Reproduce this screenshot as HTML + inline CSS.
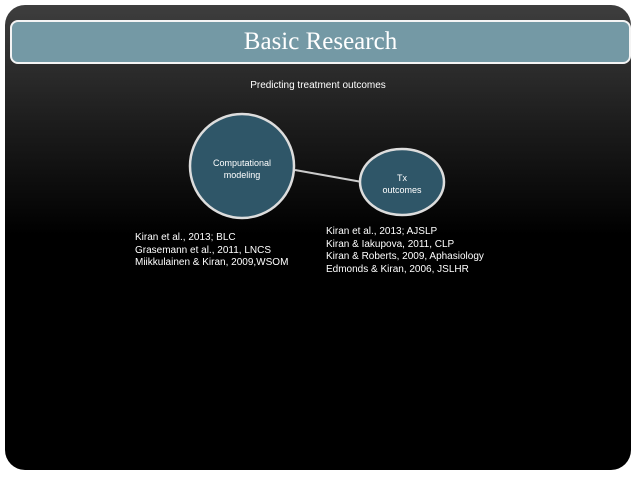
<!DOCTYPE html>
<html><head><style>
body{margin:0;background:#fff;width:636px;height:477px;overflow:hidden;position:relative;font-family:"Liberation Sans",sans-serif}
.bg{position:absolute;left:5px;top:5px;width:626px;height:465px;border-radius:20px;background:linear-gradient(#3e3e3e 0px,#1c1c1c 120px,#000 230px,#000)}
.tb{position:absolute;left:10px;top:20px;width:617px;height:40px;background:#7499a5;border:2px solid #f4f4f4;border-radius:8px;color:#fff;font-family:"Liberation Serif",serif;font-size:25px;text-align:center;line-height:40px}
.t{position:absolute;color:#fff;font-size:10px;line-height:12.5px}
</style></head><body>
<div class="bg"></div>
<div class="tb">Basic Research</div>
<div class="t" style="left:0;width:636px;text-align:center;top:80px;font-size:10px">Predicting treatment outcomes</div>
<svg style="position:absolute;left:0;top:0" width="636" height="477">
<line x1="295" y1="170" x2="362" y2="182" stroke="#ccc" stroke-width="2"/>
<circle cx="242" cy="166" r="52" fill="#2f5668" stroke="#ddd" stroke-width="2.5"/>
<ellipse cx="402" cy="182" rx="42" ry="33" fill="#2f5668" stroke="#ddd" stroke-width="2.5"/>
</svg>
<div class="t" style="left:192px;width:100px;text-align:center;top:157px;font-size:9px;line-height:12px">Computational<br>modeling</div>
<div class="t" style="left:360px;width:84px;text-align:center;top:172px;font-size:9px;line-height:12px">Tx<br>outcomes</div>
<div class="t" style="left:135px;top:232px">Kiran et al., 2013; BLC<br>Grasemann et al., 2011, LNCS<br>Miikkulainen &amp; Kiran, 2009,WSOM</div>
<div class="t" style="left:326px;top:226px">Kiran et al., 2013; AJSLP<br>Kiran &amp; Iakupova, 2011, CLP<br>Kiran &amp; Roberts, 2009, Aphasiology<br>Edmonds &amp; Kiran, 2006, JSLHR</div>
</body></html>
